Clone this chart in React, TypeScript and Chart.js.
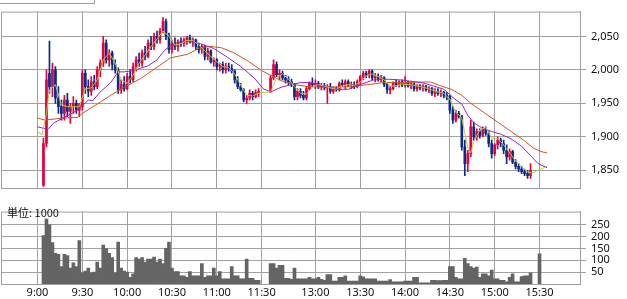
import React, { useEffect, useRef } from "react";
import { Chart, registerables } from "chart.js";

Chart.register(...registerables);

// ---- time axis (minutes from 9:00; afternoon session 12:30 placed at 156) ----
const TIME_TICK_VALUES = [0, 30, 60, 90, 120, 150, 186, 216, 246, 276, 306, 336];
const TIME_TICK_LABELS = ["9:00", "9:30", "10:00", "10:30", "11:00", "11:30", "13:00", "13:30", "14:00", "14:30", "15:00", "15:30"];
const X_MIN = -24.43;
const X_MAX = 363.1;

const MORNING_START = 4; // 9:04
const AFTERNOON_START = 156; // 12:30
const BAR_STEP = 2; // 2-minute candles

const PRICE_TICKS = [1850, 1900, 1950, 2000, 2050];
const VOLUME_TICKS = [50, 100, 150, 200, 250];

// ---- morning candles ----
const OPEN_AM = [
  1828, 1890, 1995, 1975, 2000, 1958, 1945, 1935, 1955, 1938,
  1945, 1950, 1940, 1945, 1995, 1975, 1968, 1982, 1975, 2000,
  2010, 2040, 2015, 2025, 2008, 2000, 1970, 1978, 1972, 1990,
  1985, 2005, 2015, 2010, 2025, 2020, 2040, 2035, 2050, 2045,
  2058, 2072, 2050, 2030, 2040, 2035, 2042, 2040, 2045, 2048,
  2042, 2045, 2035, 2030, 2035, 2020, 2028, 2012, 2015, 2005,
  2008, 2000, 2005, 2002, 1998, 1985, 1975, 1970, 1955, 1958,
  1965, 1960, 1966,
];
const HIGH_AM = [
  1898, 2000, 2043, 2010, 2005, 1975, 1955, 1962, 1965, 1950,
  1960, 1955, 1950, 2000, 2000, 1985, 1990, 1992, 2005, 2015,
  2050, 2045, 2030, 2028, 2015, 2003, 1985, 1990, 1995, 2000,
  2010, 2020, 2025, 2030, 2035, 2045, 2050, 2055, 2058, 2062,
  2078, 2076, 2055, 2045, 2048, 2045, 2048, 2048, 2050, 2052,
  2048, 2046, 2040, 2038, 2037, 2032, 2030, 2018, 2017, 2010,
  2012, 2010, 2010, 2008, 2000, 1990, 1980, 1972, 1962, 1970,
  1968, 1970, 1972,
];
const LOW_AM = [
  1826, 1885, 1965, 1960, 1950, 1935, 1925, 1925, 1930, 1920,
  1935, 1935, 1930, 1940, 1965, 1960, 1962, 1970, 1972, 1990,
  2005, 2010, 2005, 2000, 1995, 1965, 1965, 1968, 1970, 1980,
  1982, 1998, 2005, 2005, 2015, 2018, 2030, 2030, 2040, 2040,
  2055, 2045, 2025, 2025, 2030, 2028, 2035, 2035, 2038, 2040,
  2035, 2030, 2025, 2025, 2015, 2015, 2010, 2005, 2000, 1998,
  1995, 1995, 1998, 1995, 1980, 1972, 1968, 1952, 1950, 1955,
  1955, 1958, 1960,
];
const CLOSE_AM = [
  1890, 1985, 1975, 2000, 1958, 1945, 1935, 1955, 1938, 1945,
  1950, 1940, 1948, 1995, 1975, 1968, 1982, 1975, 2000, 2010,
  2040, 2015, 2025, 2008, 2000, 1970, 1978, 1972, 1990, 1985,
  2005, 2015, 2010, 2025, 2020, 2040, 2035, 2050, 2045, 2058,
  2072, 2050, 2030, 2040, 2035, 2042, 2040, 2045, 2048, 2042,
  2045, 2035, 2030, 2035, 2020, 2028, 2012, 2015, 2005, 2008,
  2000, 2005, 2002, 1998, 1985, 1975, 1970, 1955, 1958, 1965,
  1960, 1966, 1968,
];
const VOL_AM = [
  205, 274, 250, 175, 130, 125, 74, 125, 120, 67,
  90, 74, 183, 47, 55, 67, 47, 50, 93, 67,
  164, 150, 130, 112, 47, 177, 67, 55, 50, 28,
  43, 112, 105, 112, 93, 105, 105, 114, 93, 105,
  86, 151, 177, 67, 52, 52, 35, 35, 28, 52,
  35, 35, 35, 86, 28, 35, 35, 67, 35, 52,
  22, 22, 22, 74, 35, 35, 22, 22, 105, 24,
  24, 16, 16,
];

// ---- afternoon candles ----
const OPEN_PM = [
  1968, 1988, 2008, 1993, 1995, 1988, 1985, 1982, 1978, 1960,
  1968, 1962, 1958, 1972, 1980, 1978, 1980, 1975, 1977, 1973,
  1975, 1968, 1972, 1970, 1980, 1978, 1982, 1977, 1978, 1975,
  1982, 1990, 1995, 1992, 1998, 1988, 1990, 1986, 1988, 1978,
  1970, 1972, 1980, 1978, 1982, 1977, 1980, 1976, 1979, 1972,
  1976, 1973, 1975, 1970, 1972, 1965, 1968, 1965, 1967, 1962,
  1960, 1940, 1925, 1935, 1930, 1885, 1860, 1875, 1915, 1900,
  1908, 1902, 1912, 1905, 1890, 1875, 1888, 1895, 1890, 1880,
  1870, 1878, 1862, 1856, 1852, 1848, 1845, 1842,
];
const HIGH_PM = [
  1992, 2015, 2012, 2000, 1998, 1992, 1990, 1986, 1980, 1972,
  1972, 1968, 1975, 1982, 1988, 1985, 1983, 1980, 1980, 1978,
  1980, 1975, 1975, 1982, 1985, 1985, 1985, 1982, 1982, 1985,
  1992, 1998, 1998, 2000, 2000, 1995, 1994, 1992, 1990, 1980,
  1975, 1982, 1985, 1984, 1985, 1990, 1983, 1982, 1980, 1978,
  1978, 1978, 1977, 1975, 1974, 1972, 1972, 1970, 1968, 1966,
  1962, 1945, 1940, 1938, 1932, 1895, 1880, 1925, 1922, 1912,
  1912, 1915, 1915, 1908, 1895, 1890, 1900, 1898, 1895, 1888,
  1882, 1880, 1866, 1860, 1856, 1852, 1850, 1860,
];
const LOW_PM = [
  1966, 1985, 1990, 1985, 1985, 1980, 1978, 1975, 1955, 1955,
  1958, 1955, 1955, 1970, 1975, 1972, 1972, 1970, 1970, 1950,
  1965, 1965, 1968, 1968, 1975, 1972, 1975, 1972, 1972, 1973,
  1978, 1985, 1988, 1988, 1985, 1982, 1983, 1982, 1975, 1965,
  1964, 1970, 1975, 1974, 1975, 1974, 1974, 1972, 1968, 1968,
  1970, 1968, 1968, 1966, 1962, 1960, 1962, 1960, 1958, 1955,
  1935, 1920, 1922, 1928, 1880, 1842, 1848, 1870, 1895, 1895,
  1898, 1900, 1902, 1885, 1868, 1872, 1882, 1885, 1875, 1860,
  1865, 1860, 1852, 1848, 1845, 1842, 1838, 1838,
];
const CLOSE_PM = [
  1988, 2008, 1993, 1995, 1988, 1985, 1982, 1978, 1960, 1968,
  1962, 1958, 1972, 1980, 1978, 1980, 1975, 1977, 1973, 1975,
  1968, 1972, 1970, 1980, 1978, 1982, 1977, 1978, 1975, 1982,
  1990, 1995, 1992, 1998, 1988, 1990, 1986, 1988, 1978, 1970,
  1972, 1980, 1978, 1982, 1977, 1980, 1976, 1979, 1972, 1976,
  1973, 1975, 1970, 1972, 1965, 1968, 1965, 1967, 1962, 1960,
  1940, 1925, 1935, 1930, 1885, 1860, 1875, 1915, 1900, 1908,
  1902, 1912, 1905, 1890, 1875, 1888, 1895, 1890, 1880, 1870,
  1878, 1862, 1856, 1852, 1848, 1845, 1842, 1850,
];
const VOL_PM = [
  86, 86, 67, 79, 79, 24, 24, 20, 67, 22,
  22, 22, 22, 28, 22, 22, 28, 20, 15, 40,
  40, 12, 12, 28, 28, 35, 12, 12, 12, 12,
  35, 30, 22, 22, 22, 22, 12, 12, 12, 12,
  19, 9, 9, 9, 9, 12, 12, 12, 28, 28,
  5, 5, 5, 5, 16, 16, 14, 14, 16, 16,
  74, 74, 28, 22, 22, 109, 86, 74, 67, 71,
  28, 43, 43, 35, 59, 22, 22, 16, 16, 9,
  28, 43, 9, 9, 31, 35, 35, 47,
];
const CLOSING_AUCTION_X = 336; // 15:30
const CLOSING_AUCTION_VOL = 128;

// ---- moving averages ----
const MA_SHORT_X = [0, 3, 6, 8, 12, 16, 20, 24, 28, 32, 36, 40, 44, 48, 52, 56, 60, 64, 68, 72, 76, 80, 84, 88, 92, 96, 100, 104, 108, 112, 116, 120, 124, 128, 132, 136, 140, 144, 148, 150, 156, 160, 164, 168, 172, 176, 180, 184, 188, 192, 196, 200, 204, 208, 212, 216, 220, 224, 228, 232, 236, 240, 244, 248, 252, 256, 260, 264, 268, 272, 276, 280, 284, 286, 288, 290, 292, 296, 300, 304, 308, 312, 316, 320, 324, 328, 331, 336, 341];
const MA_SHORT = [1908, 1903, 1935, 1970, 1978, 1948, 1945, 1945, 1945, 1972, 1973, 1985, 2015, 2025, 2010, 1985, 1980, 1992, 2010, 2022, 2035, 2046, 2058, 2050, 2037, 2039, 2044, 2044, 2037, 2028, 2020, 2012, 2005, 2003, 1994, 1977, 1962, 1961, 1965, 1966, 1967, 1988, 1994, 1986, 1975, 1965, 1964, 1974, 1978, 1976, 1973, 1971, 1976, 1978, 1977, 1982, 1991, 1994, 1990, 1985, 1976, 1976, 1979, 1978, 1977, 1975, 1973, 1970, 1967, 1965, 1956, 1937, 1928, 1905, 1883, 1876, 1893, 1910, 1914, 1898, 1897, 1888, 1876, 1864, 1855, 1848, 1846, 1851, 1856];

const MA_MID_X = [0, 7, 11, 17, 24, 29, 34, 37, 42, 49, 54, 58, 64, 74, 80, 85, 89, 100, 109, 118, 127, 136, 145, 151, 156, 163, 170, 176, 183, 192, 198, 208, 216, 225, 235, 243, 257, 265, 272, 279, 284, 288, 292, 297, 304, 310, 317, 324, 330, 335, 341];
const MA_MID = [1915, 1911, 1921, 1928, 1936, 1944, 1955, 1954, 1967, 1981, 1997, 1997, 1999, 2006, 2015, 2029, 2036, 2043, 2039, 2032, 2019, 2005, 1988, 1972, 1967, 1974, 1978, 1981, 1981, 1975, 1971, 1971, 1978, 1985, 1986, 1985, 1981, 1976, 1971, 1957, 1949, 1932, 1921, 1914, 1908, 1904, 1897, 1886, 1872, 1860, 1854];

const MA_LONG_X = [0, 5, 17, 27, 30, 40, 49, 58, 69, 80, 89, 100, 109, 116, 123, 131, 141, 150, 156, 163, 172, 181, 190, 198, 210, 221, 232, 243, 263, 270, 277, 284, 290, 299, 308, 317, 326, 332, 337, 341];
const MA_LONG = [1928, 1925, 1928, 1929, 1935, 1949, 1962, 1974, 1987, 2004, 2018, 2023, 2033, 2035, 2033, 2026, 2013, 1999, 1992, 1984, 1978, 1975, 1974, 1974, 1975, 1978, 1981, 1981, 1982, 1976, 1971, 1962, 1950, 1936, 1922, 1908, 1894, 1883, 1878, 1876];

// ---- styles ----
const GRID = "#a0a0a0";
const TEXT = "#111111";
const UP = "#e8003c";
const DOWN = "#0a2a8c";
const MA_SHORT_COLOR = "#bccb3a";
const MA_MID_COLOR = "#9624c8";
const MA_LONG_COLOR = "#d2521e";
const VOL_COLOR = "#646464";
const FONT = { family: "'Noto Sans', 'DejaVu Sans', sans-serif", size: 11 };

const framePlugin = {
  id: "frame",
  afterDraw(chart: any) {
    const { ctx, chartArea } = chart;
    const { left, top, right, bottom } = chartArea;
    ctx.save();
    ctx.strokeStyle = GRID;
    ctx.lineWidth = 1;
    ctx.beginPath();
    ctx.moveTo(left + 0.5, top + 0.5);
    ctx.lineTo(right + 0.5, top + 0.5);
    ctx.moveTo(left + 0.5, top + 0.5);
    ctx.lineTo(left + 0.5, bottom + 0.5);
    ctx.stroke();
    ctx.restore();
  },
};

function timeAxis(showLabels: boolean, height: number) {
  return {
    type: "linear",
    min: X_MIN,
    max: X_MAX,
    offset: false,
    grid: { color: GRID, lineWidth: 1, drawTicks: false, offset: false },
    border: { display: true, color: GRID, width: 1 },
    ticks: {
      display: showLabels,
      autoSkip: false,
      maxRotation: 0,
      minRotation: 0,
      padding: 2,
      color: TEXT,
      font: FONT,
      callback: (v: number) => {
        const i = TIME_TICK_VALUES.indexOf(v);
        return i >= 0 ? TIME_TICK_LABELS[i] : "";
      },
    },
    afterBuildTicks: (s: any) => {
      s.ticks = TIME_TICK_VALUES.map((v) => ({ value: v }));
    },
    afterFit: (s: any) => {
      s.height = height;
    },
  };
}

function valueAxis(min: number, max: number, ticks: number[], fmt: (v: number) => string) {
  return {
    type: "linear",
    position: "right",
    min,
    max,
    grid: { color: GRID, lineWidth: 1, drawTicks: true, tickLength: 6 },
    border: { display: true, color: GRID, width: 1 },
    ticks: { padding: 5, color: TEXT, font: FONT, callback: (v: number) => fmt(v) },
    afterBuildTicks: (s: any) => {
      s.ticks = ticks.map((v) => ({ value: v }));
    },
    afterFit: (s: any) => {
      s.width = 47;
    },
  };
}

export default function App() {
  const priceRef = useRef<HTMLCanvasElement>(null);
  const volRef = useRef<HTMLCanvasElement>(null);

  useEffect(() => {
    const amX = OPEN_AM.map((_, k) => MORNING_START + k * BAR_STEP);
    const pmX = OPEN_PM.map((_, k) => AFTERNOON_START + k * BAR_STEP);
    const xs = [...amX, ...pmX];
    const open = [...OPEN_AM, ...OPEN_PM];
    const high = [...HIGH_AM, ...HIGH_PM];
    const low = [...LOW_AM, ...LOW_PM];
    const close = [...CLOSE_AM, ...CLOSE_PM];
    const vol = [...VOL_AM, ...VOL_PM];
    const colors = close.map((c, k) => (c >= open[k] ? UP : DOWN));

    const line = (xsArr: number[], ys: number[], color: string) => ({
      type: "line",
      data: xsArr.map((x, k) => ({ x, y: ys[k] })),
      borderColor: color,
      borderWidth: 1,
      pointRadius: 0,
      fill: false,
      tension: 0,
      order: 0,
    });

    const price = new Chart(priceRef.current as HTMLCanvasElement, {
      type: "bar",
      data: {
        datasets: [
          line(MA_SHORT_X, MA_SHORT, MA_SHORT_COLOR),
          line(MA_MID_X, MA_MID, MA_MID_COLOR),
          line(MA_LONG_X, MA_LONG, MA_LONG_COLOR),
          {
            type: "bar",
            data: xs.map((x, k) => ({ x, y: [open[k], close[k]] })),
            backgroundColor: colors,
            barThickness: 2,
            grouped: false,
            order: 1,
          },
          {
            type: "bar",
            data: xs.map((x, k) => ({ x, y: [low[k], high[k]] })),
            backgroundColor: colors,
            barThickness: 1,
            grouped: false,
            order: 2,
          },
        ] as any,
      },
      options: {
        responsive: false,
        animation: false,
        devicePixelRatio: 1,
        layout: { padding: { left: 1, top: 4, right: 0, bottom: 0 } },
        plugins: { legend: { display: false }, tooltip: { enabled: false } },
        scales: {
          x: timeAxis(false, 6),
          y: valueAxis(1823, 2087, PRICE_TICKS, (v) => Number(v).toLocaleString("en-US")),
        } as any,
      },
      plugins: [framePlugin],
    });

    const volume = new Chart(volRef.current as HTMLCanvasElement, {
      type: "bar",
      data: {
        datasets: [
          {
            data: [
              ...xs.map((x, k) => ({ x, y: vol[k] })),
              { x: CLOSING_AUCTION_X, y: CLOSING_AUCTION_VOL },
            ],
            backgroundColor: VOL_COLOR,
            barThickness: 3,
            grouped: false,
          },
        ] as any,
      },
      options: {
        responsive: false,
        animation: false,
        devicePixelRatio: 1,
        layout: { padding: { left: 1, top: 5, right: 0, bottom: 0 } },
        plugins: { legend: { display: false }, tooltip: { enabled: false } },
        scales: {
          x: timeAxis(true, 15),
          y: valueAxis(0, 306, VOLUME_TICKS, (v) => String(v)),
        } as any,
      },
      plugins: [framePlugin],
    });

    return () => {
      price.destroy();
      volume.destroy();
    };
  }, []);

  return (
    <div style={{ position: "absolute", left: 0, top: 0, width: 627, height: 299, background: "#fff", overflow: "hidden" }}>
      <div
        style={{
          position: "absolute",
          left: 0,
          top: 0,
          width: 95,
          height: 4,
          boxSizing: "border-box",
          borderRight: `1px solid ${GRID}`,
          borderBottom: `1px solid ${GRID}`,
        }}
      />
      <canvas ref={priceRef} width={627} height={200} style={{ position: "absolute", left: 0, top: 0, display: "block" }} />
      <canvas ref={volRef} width={627} height={99} style={{ position: "absolute", left: 0, top: 200, display: "block" }} />
      <div
        style={{
          position: "absolute",
          left: 7,
          top: 206,
          fontFamily: "'Noto Sans CJK JP', 'Noto Sans', sans-serif",
          fontSize: 11,
          lineHeight: "13px",
          color: TEXT,
          whiteSpace: "nowrap",
        }}
      >
        単位: 1000
      </div>
    </div>
  );
}
